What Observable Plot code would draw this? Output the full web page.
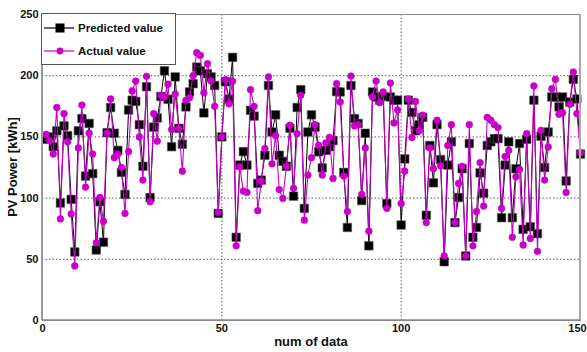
<!DOCTYPE html>
<html>
<head>
<meta charset="utf-8">
<script src="https://cdn.jsdelivr.net/npm/d3@7"></script>
<script src="https://cdn.jsdelivr.net/npm/@observablehq/plot@0.6"></script>
<style>
  html, body { margin: 0; padding: 0; background: #fff; }
  #chart svg { display: block; }
</style>
</head>
<body>
<div id="chart"></div>
<script>
const predicted = [
  148,150,142,155,96,159,151,99,56,155,
  165,118,161,120,57.6,97,64,153.5,174,153,
  139,121,103,172,180,179,160,126,191,100.5,
  158,165.5,183,204,180.7,142,199,157,144,174.5,
  186.7,193.5,207,204,169.6,201.6,199,192,87.5,150,
  195,181,215,68,127,138,127,171.7,167,112,
  114.7,135,192,154,168,135,130,126,157,101.6,
  174,188.6,91.6,154,168,158,137.8,124.7,139,142,
  147,187,186.7,121,76,192,165,161,98,153,
  61,186.7,182.6,180,183,95.6,182.6,180,180,78,
  132,180,170,155,160,166,86,143,112.5,160,
  131.5,48,127,146,80,100.5,124,52.7,144.6,68,
  76,120.6,104,143,146,148.6,148.6,84,127,146,
  84,124,144.6,74.5,148,76.6,180,71,150.5,125,
  154,182.6,182.6,174.5,182.6,114,178.5,197,181,136
];
const actual = [
  152,147,136,174,83,169,146,87,44.6,141,
  176,109,153,136,63.5,100.5,81,153,181,133,
  136,125,87.5,138,187.5,195.6,150,114.7,199.5,97,
  169,146.5,184,182.6,193,156,185,157,122,180,
  182,200,218.8,216.6,186,209.8,195.7,175,88.3,150,
  196.7,177,195.4,61,125.5,105.7,104.6,188.6,175,89.7,
  114,140.5,199,128,151,107,99.7,126,159.5,108,
  152.7,184,82,118.8,133,160,143,118.8,145,149.5,
  116,193.5,178.5,118,89,199.7,159,160,103,141,
  73,182.6,195.6,178,186.7,91.6,194,161.4,172,95.6,
  122,181,149.5,179,155,167.7,80,141,124,163.6,
  126.4,52.7,143,160,80,112,126,52.7,160,61,
  89,129,93.5,166,163.6,160,157.6,91.6,134,139,
  68,117.4,123.4,61.7,152.7,67,191.6,56.5,155.4,114.7,
  141.8,189.4,197,168.5,169.8,104.6,176.6,203,169,137
];
const index = d3.range(1, predicted.length + 1);
const xTicks = [0, 50, 100, 150];
const yTicks = [0, 50, 100, 150, 200, 250];
const seriesNames = ["Predicted value", "Actual value"];

const predData = index.map((n, i) => ({n, v: predicted[i]}));
const actData = index.map((n, i) => ({n, v: actual[i]}));

const BLACK = "#000000";
const MAG = "#c800c8";
const font = "Arial, 'Liberation Sans', sans-serif";

const chart = Plot.plot({
  width: 587,
  height: 352,
  marginLeft: 42,
  marginRight: 7,
  marginTop: 14,
  marginBottom: 32,
  style: {fontFamily: font, fontSize: "11px", fontWeight: "bold", color: "#111", background: "#fff"},
  x: {domain: [0, 150], ticks: xTicks, label: null},
  y: {domain: [0, 250], ticks: yTicks, label: null},
  marks: [
    Plot.gridX(xTicks.filter(t => t > 0 && t < 150), {stroke: "#333", strokeOpacity: 0.8, strokeDasharray: "1.5,2", strokeWidth: 1}),
    Plot.gridY(yTicks.filter(t => t > 0 && t < 250), {stroke: "#333", strokeOpacity: 0.8, strokeDasharray: "1.5,2", strokeWidth: 1}),
    Plot.line(predData, {x: "n", y: "v", stroke: BLACK, strokeWidth: 1}),
    Plot.dot(predData, {x: "n", y: "v", symbol: "square", r: 4.8, fill: BLACK, stroke: "#555", strokeWidth: 0.6}),
    Plot.line(actData, {x: "n", y: "v", stroke: MAG, strokeWidth: 1.1}),
    Plot.dot(actData, {x: "n", y: "v", symbol: "circle", r: 3.4, fill: MAG, stroke: MAG, strokeWidth: 0.5}),
    Plot.frame({stroke: "#888", strokeWidth: 1}),
    Plot.axisX({ticks: xTicks.slice(0, 3), tickSize: 0, tickPadding: 4, label: null, fontWeight: "bold"}),
    Plot.axisX({ticks: xTicks.slice(3), tickSize: 0, tickPadding: 4, label: null, fontWeight: "bold", dx: -3}),
    Plot.axisY({ticks: yTicks, tickSize: 0, tickPadding: 4, label: null, fontWeight: "bold"})
  ]
});

document.getElementById("chart").appendChild(chart);

const svg = d3.select(chart);
// thicker left/right borders like the reference
svg.append("line").attr("x1", 42).attr("x2", 42).attr("y1", 14).attr("y2", 320)
  .attr("stroke", "#999").attr("stroke-width", 2);
svg.append("line").attr("x1", 580).attr("x2", 580).attr("y1", 14).attr("y2", 320)
  .attr("stroke", "#aaa").attr("stroke-width", 2);
svg.append("line").attr("x1", 42).attr("x2", 580).attr("y1", 320).attr("y2", 320)
  .attr("stroke", "#888").attr("stroke-width", 1.5);

// axis titles
svg.append("text").attr("x", 311).attr("y", 346).attr("text-anchor", "middle")
  .attr("font-family", font).attr("font-size", 13).attr("font-weight", "bold").attr("fill", "#111")
  .text("num of data");
svg.append("text").attr("transform", "translate(17,167) rotate(-90)").attr("text-anchor", "middle")
  .attr("font-family", font).attr("font-size", 13).attr("font-weight", "bold").attr("fill", "#111")
  .text("PV Power [kWh]");

// legend
const lg = svg.append("g").attr("text-anchor", "start");
lg.append("rect").attr("x", 41.5).attr("y", 13.5).attr("width", 134).attr("height", 51)
  .attr("fill", "#fff").attr("stroke", "#555").attr("stroke-width", 1);
const rows = [
  {name: seriesNames[0], color: BLACK, sym: "square", y: 28},
  {name: seriesNames[1], color: MAG, sym: "circle", y: 51}
];
rows.forEach(r => {
  lg.append("line").attr("x1", 44).attr("x2", 74).attr("y1", r.y).attr("y2", r.y)
    .attr("stroke", r.color).attr("stroke-width", 1.2);
  if (r.sym === "square") {
    lg.append("rect").attr("x", 55.5).attr("y", r.y - 4.5).attr("width", 9).attr("height", 9).attr("fill", r.color);
  } else {
    lg.append("circle").attr("cx", 60).attr("cy", r.y).attr("r", 3.4).attr("fill", r.color);
  }
  lg.append("text").attr("x", 78).attr("y", r.y + 4).attr("text-anchor", "start").attr("font-family", font)
    .attr("font-size", 11.5).attr("font-weight", "bold").attr("fill", "#111").text(r.name);
});
</script>
</body>
</html>
